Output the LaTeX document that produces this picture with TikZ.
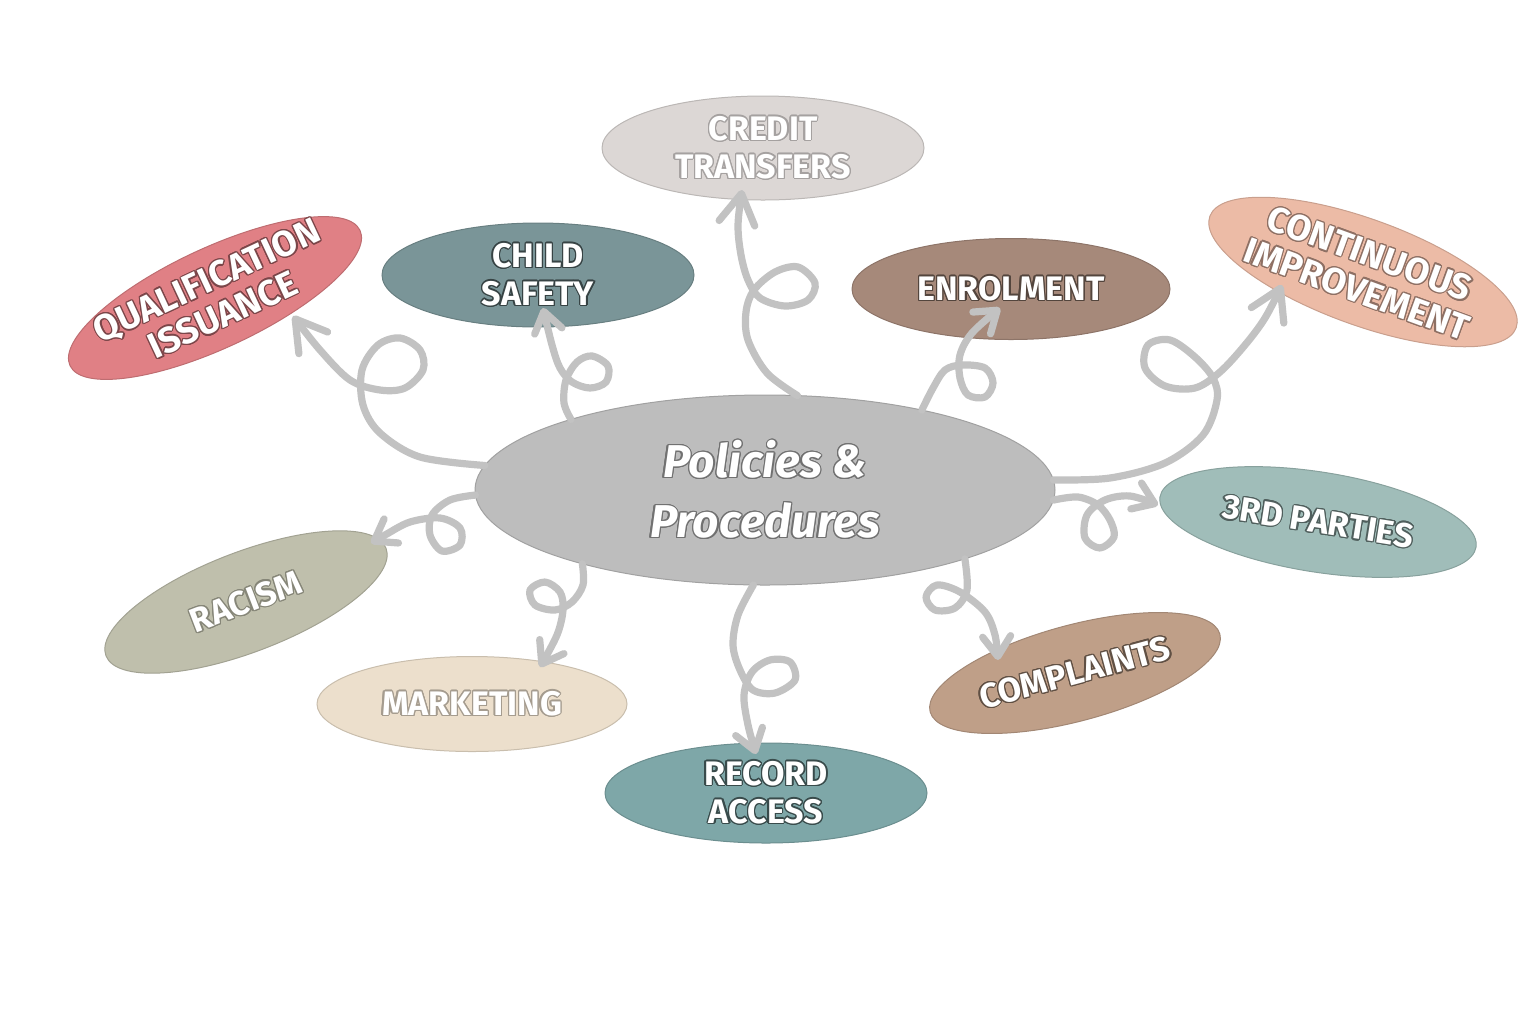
\documentclass[tikz,border=0pt]{standalone}
\usepackage{fontspec}
\newfontfamily\firab{Fira Sans}
\usepackage[copies]{contour}
\contourlength{0.6pt}
\usetikzlibrary{shapes.geometric,arrows.meta,calc}
\definecolor{centc}{HTML}{BDBDBD}
\definecolor{creditc}{HTML}{DCD7D5}
\definecolor{childc}{HTML}{7A9598}
\definecolor{qualc}{HTML}{E08085}
\definecolor{enrolc}{HTML}{A6897A}
\definecolor{contc}{HTML}{ECBBA6}
\definecolor{thirdc}{HTML}{A0BDB9}
\definecolor{compc}{HTML}{BF9F88}
\definecolor{recordc}{HTML}{7EA7A8}
\definecolor{marketc}{HTML}{ECDFCC}
\definecolor{racismc}{HTML}{BFBFAC}
\definecolor{linec}{HTML}{C2C2C2}
\newcommand\lbltxt[2]{\makebox[0pt]{\contour{#1}{#2}}}
\tikzset{
  bub/.style={ellipse, inner sep=0pt, outer sep=0pt, line width=0.5pt, text=white,
    align=center, fill=#1, draw=#1!85!black,
    font=\firab\bfseries\fontsize{17}{19}\selectfont},
  conn/.style={draw=linec, line width=3.6pt, line cap=round, line join=round,
    -{Straight Barb[length=10pt,width=14pt,round]}},
  bigtip/.style={-{Straight Barb[length=15pt,width=18pt,round]}},
}
\begin{document}
\begin{tikzpicture}[x=0.5pt,y=-0.5pt]
\useasboundingbox (0,0) rectangle (1536,1024);

\node[bub=centc, minimum width=290pt, minimum height=95pt,
  font=\firab\bfseries\itshape\fontsize{23}{30}\selectfont] (P) at (765,490)
  {\lbltxt{centc!60!black}{Policies \&}\\\lbltxt{centc!60!black}{Procedures}};

\node[bub=creditc, minimum width=161pt, minimum height=52pt] (credit) at (763,148)
  {\lbltxt{creditc!75!black}{CREDIT}\\\lbltxt{creditc!75!black}{TRANSFERS}};
\node[bub=childc, minimum width=156pt, minimum height=52pt] (child) at (538,275)
  {\lbltxt{childc!45!black}{CHILD}\\\lbltxt{childc!45!black}{SAFETY}};
\node[bub=qualc, minimum width=160pt, minimum height=50pt, rotate=25,
  font=\firab\bfseries\fontsize{18}{19}\selectfont] (qual) at (215,298)
  {\lbltxt{qualc!55!black}{QUALIFICATION}\\\lbltxt{qualc!55!black}{ISSUANCE}};
\node[bub=enrolc, minimum width=159pt, minimum height=50.5pt] (enrol) at (1011,289)
  {\lbltxt{enrolc!50!black}{ENROLMENT}};
\node[bub=contc, minimum width=163pt, minimum height=53pt, rotate=-20,
  font=\firab\bfseries\fontsize{18}{19}\selectfont] (cont) at (1363,272)
  {\lbltxt{contc!60!black}{CONTINUOUS}\\\lbltxt{contc!60!black}{IMPROVEMENT}};
\node[bub=thirdc, minimum width=160pt, minimum height=50pt, rotate=-9] (third) at (1318,522)
  {\lbltxt{thirdc!50!black}{3RD PARTIES}};
\node[bub=compc, minimum width=150pt, minimum height=48pt, rotate=15] (comp) at (1075,673)
  {\lbltxt{compc!50!black}{COMPLAINTS}};
\node[bub=recordc, minimum width=161pt, minimum height=50pt] (record) at (766,793)
  {\lbltxt{recordc!45!black}{RECORD}\\\lbltxt{recordc!45!black}{ACCESS}};
\node[bub=marketc, minimum width=155pt, minimum height=47.5pt] (market) at (472,704)
  {\lbltxt{marketc!70!black}{MARKETING}};
\node[bub=racismc, minimum width=150pt, minimum height=50pt, rotate=21] (racism) at (246,602)
  {\lbltxt{racismc!70!black}{RACISM}};

\coordinate (t1) at ($(qual)+(78,18)$);
\coordinate (t2) at ($(child)+(5,33)$);
\coordinate (t3) at ($(credit)+(-21,42)$);
\coordinate (t4) at ($(enrol)+(-11,19)$);
\coordinate (t5) at ($(cont)+(-81,13)$);
\coordinate (t6) at ($(third)+(-160,-17)$);
\coordinate (t7) at ($(racism)+(125,-59)$);
\coordinate (t8) at ($(market)+(68,-37)$);
\coordinate (t9) at ($(record)+(-10,-39)$);
\coordinate (t10) at ($(comp)+(-77,-13)$);

\draw[conn,bigtip] plot[smooth,tension=0.55] coordinates {(P.175) (420,457) (380,433) (363,405) (362,370) (378,345) (400,338) (420,350) (423,370) (405,388) (380,390) (350,380) (320,350) (t1)};
\draw[conn] plot[smooth,tension=0.55] coordinates {(P.160) (564,403) (566,380) (577,362) (592,356) (608,366) (606,382) (590,388) (572,382) (560,368) (552,345) (t2)};
\draw[conn,bigtip] plot[smooth,tension=0.55] coordinates {(P.71) (767,373) (748,340) (746,312) (754,290) (775,272) (798,267) (815,283) (808,300) (785,306) (760,298) (748,280) (741,255) (738,225) (t3)};
\draw[conn] plot[smooth,tension=0.55] coordinates {(P.27) (933,388) (945,370) (962,365) (985,368) (993,383) (985,397) (968,395) (960,378) (960,355) (972,333) (t4)};
\draw[conn,bigtip] plot[smooth,tension=0.55] coordinates {(P.2) (1110,478) (1165,463) (1203,435) (1217,400) (1213,378) (1195,357) (1170,340) (1148,345) (1145,368) (1165,386) (1195,388) (1220,372) (1245,345) (1265,318) (t5)};
\draw[conn] plot[smooth,tension=0.55] coordinates {(P.-2) (1078,497) (1098,505) (1110,520) (1114,537) (1100,548) (1085,538) (1087,515) (1105,500) (1130,496) (t6)};
\draw[conn] plot[smooth,tension=0.55] coordinates {(P.181) (450,500) (432,515) (430,535) (442,551) (460,545) (460,528) (440,518) (410,522) (385,535) (t7)};
\draw[conn] plot[smooth,tension=0.55] coordinates {(P.-158) (583,585) (572,602) (555,610) (535,605) (530,590) (545,582) (560,592) (563,610) (557,635) (t8)};
\draw[conn] plot[smooth,tension=0.55] coordinates {(P.-97) (738,615) (733,645) (740,670) (753,690) (775,693) (795,680) (790,662) (770,660) (752,672) (744,695) (748,725) (t9)};
\draw[conn] plot[smooth,tension=0.55] coordinates {(P.-19) (967,590) (955,608) (935,610) (926,597) (937,585) (960,592) (985,612) (995,635) (t10)};
\end{tikzpicture}
\end{document}
